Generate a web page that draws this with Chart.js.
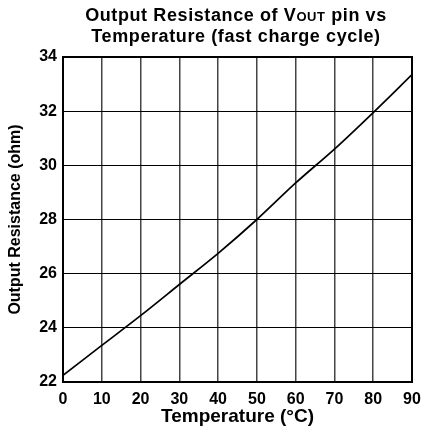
<!DOCTYPE html>
<html>
<head>
<meta charset="utf-8">
<script src="https://cdn.jsdelivr.net/npm/chart.js@4"></script>
<style>
html, body { margin: 0; padding: 0; background: #fff; }
#wrap { position: relative; width: 421px; height: 436px; }
#title {
    position: absolute; top: 5px; left: 51px; width: 370px;
    text-align: center; color: #000;
    font: bold 18px "Liberation Sans", Arial, sans-serif; line-height: 21px;
    letter-spacing: 0.6px;
}
.sc { font-variant: small-caps; }
</style>
</head>
<body>
<div id="wrap">
    <canvas id="chart" width="421" height="436"></canvas>
    <div id="title">Output Resistance of V<span class="sc">out</span> pin vs<br>Temperature (fast charge cycle)</div>
</div>
<script>
const temperatures = [0, 10, 20, 30, 40, 50, 60, 70, 80, 90];
const resistance = [22.25, 23.35, 24.45, 25.6, 26.75, 28.0, 29.35, 30.6, 31.95, 33.35];
const xTicks = [0, 10, 20, 30, 40, 50, 60, 70, 80, 90];
const yTicks = [22, 24, 26, 28, 30, 32, 34];

const fontFamily = '"Liberation Sans", Arial, sans-serif';

// thick frame around the plot area
const framePlugin = {
    id: 'frame',
    afterDraw(chart) {
        const a = chart.chartArea;
        const ctx = chart.ctx;
        ctx.save();
        ctx.strokeStyle = '#000';
        ctx.lineWidth = 2;
        ctx.strokeRect(a.left, a.top, a.right - a.left, a.bottom - a.top);
        ctx.restore();
    }
};

const ctx = document.getElementById('chart').getContext('2d');
new Chart(ctx, {
    type: 'line',
    data: {
        datasets: [{
            data: temperatures.map((t, i) => ({ x: t, y: resistance[i] })),
            borderColor: '#000',
            borderWidth: 1.7,
            pointRadius: 0,
            tension: 0.3,
            fill: false
        }]
    },
    options: {
        responsive: false,
        animation: false,
        layout: { padding: { top: 57, right: 9, left: 0, bottom: 0 } },
        plugins: {
            legend: { display: false },
            tooltip: { enabled: false }
        },
        scales: {
            x: {
                type: 'linear',
                min: xTicks[0],
                max: xTicks[xTicks.length - 1],
                afterBuildTicks: s => { s.ticks = xTicks.map(v => ({ value: v })); },
                afterFit: s => { s.height = 54; s.paddingLeft = 0; s.paddingRight = 0; },
                ticks: {
                    color: '#000',
                    font: { family: fontFamily, size: 16, weight: 'bold' },
                    padding: 8,
                    maxRotation: 0
                },
                grid: { color: '#444', lineWidth: 1.5, drawTicks: false },
                border: { display: false },
                title: {
                    display: true,
                    text: 'Temperature (°C)',
                    color: '#000',
                    font: { family: fontFamily, size: 19, weight: 'bold' },
                    padding: { top: 0, bottom: 8 }
                }
            },
            y: {
                type: 'linear',
                min: yTicks[0],
                max: yTicks[yTicks.length - 1],
                afterBuildTicks: s => { s.ticks = yTicks.map(v => ({ value: v })); },
                afterFit: s => { s.width = 63; },
                ticks: {
                    color: '#000',
                    font: { family: fontFamily, size: 16, weight: 'bold' },
                    padding: 6
                },
                grid: { color: '#000', lineWidth: 1, drawTicks: false },
                border: { display: false },
                title: {
                    display: true,
                    text: 'Output Resistance (ohm)',
                    color: '#000',
                    font: { family: fontFamily, size: 16, weight: 'bold' },
                    padding: { top: 6, bottom: 0 }
                }
            }
        }
    },
    plugins: [framePlugin]
});
</script>
</body>
</html>
